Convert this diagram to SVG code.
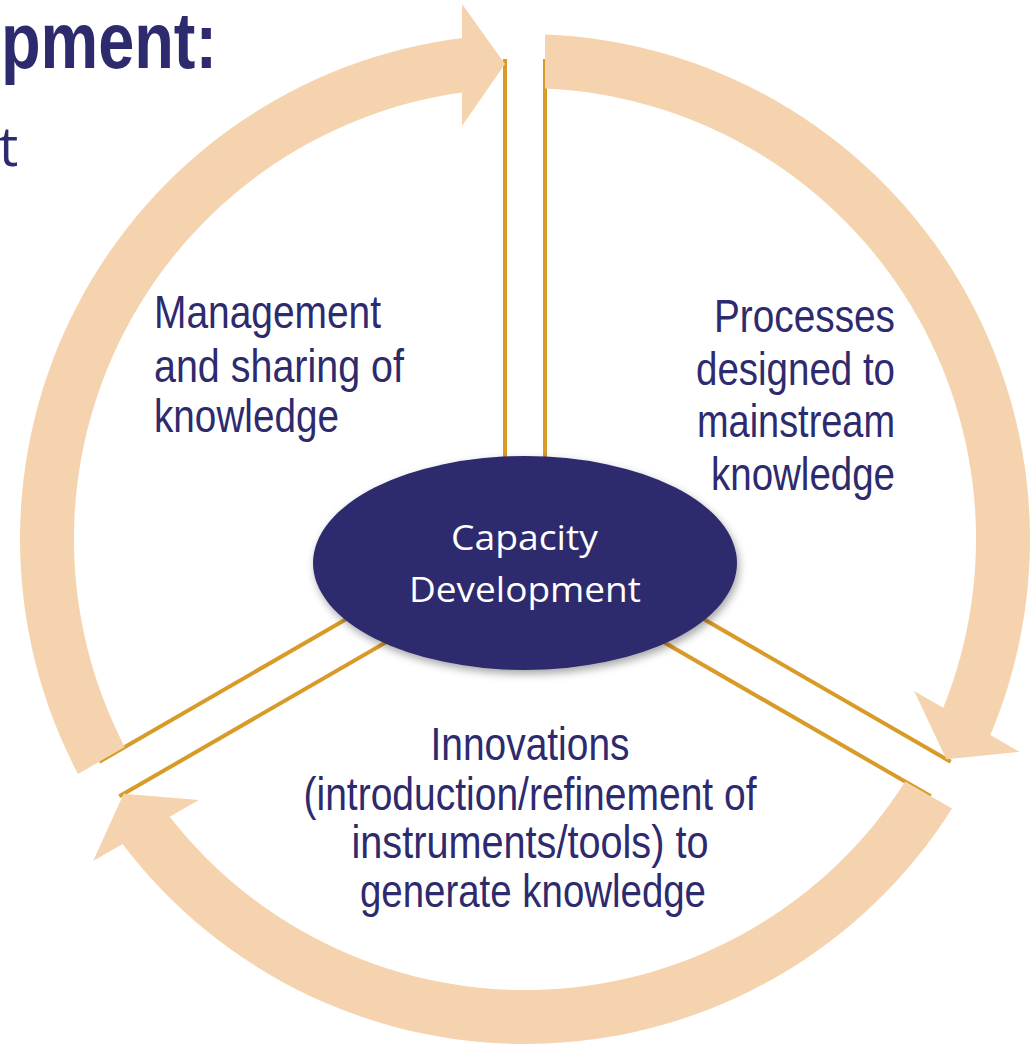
<svg xmlns="http://www.w3.org/2000/svg" width="1036" height="1045" viewBox="0 0 1036 1045">
<style>
.band{fill:#F5D3AE}
.div{stroke:#D99B28;stroke-width:4;fill:none}
.lbl{font-family:"Liberation Sans Narrow","Liberation Sans",Arial,sans-serif;font-size:46px;fill:#2E2A6E}
.title{font-family:"Liberation Sans Narrow","Liberation Sans",sans-serif;font-weight:bold;font-size:80px;fill:#2E2A6E}
.sub{font-family:"Open Sans","Liberation Sans",sans-serif;font-size:54px;fill:#2E2A6E}
.core{font-family:"Open Sans","Liberation Sans",sans-serif;font-size:35px;fill:#FFFFFF;text-anchor:middle}
</style>
<defs>
<path id="arrowShape" class="band" d="M 20,-504.6 A 505 505 0 0 1 465.41,195.97 L 494.81,212.94 L 421.35,220.18 L 389.16,151.94 L 418.26,168.74 A 451 451 0 0 0 20,-450.6 Z"/>
<g id="dividerPair">
<line x1="-20" y1="-480" x2="-20" y2="-60"/>
<line x1="20" y1="-480" x2="20" y2="-60"/>
</g>
<filter id="shadow" x="-10%" y="-15%" width="125%" height="140%">
<feDropShadow dx="2" dy="4" stdDeviation="4" flood-color="#000000" flood-opacity="0.35"/>
</filter>
</defs>

<g id="title">
<text class="title" x="1" y="68" textLength="216" lengthAdjust="spacingAndGlyphs">pment:</text>
<text class="sub" x="-1" y="166">t</text>
</g>

<g id="connectors" class="div" transform="translate(525,539)">
<use href="#dividerPair"/>
<use href="#dividerPair" transform="rotate(120)"/>
<use href="#dividerPair" transform="rotate(240)"/>
</g>

<g id="cycle-arrows" transform="translate(525,539)">
<g id="arrow-processes"><use href="#arrowShape"/></g>
<g id="arrow-innovations"><use href="#arrowShape" transform="rotate(120)"/></g>
<g id="arrow-management"><use href="#arrowShape" transform="rotate(240)"/></g>
</g>

<g id="node-core">
<ellipse cx="525" cy="563" rx="212" ry="107" fill="#2E2B6E" filter="url(#shadow)"/>
<text class="core" x="524.5" y="550" textLength="147" lengthAdjust="spacingAndGlyphs">Capacity</text>
<text class="core" x="525" y="602" textLength="232" lengthAdjust="spacingAndGlyphs">Development</text>
</g>

<g id="label-management">
<text class="lbl" x="154" y="328" textLength="227" lengthAdjust="spacingAndGlyphs">Management</text>
<text class="lbl" x="154" y="382" textLength="250" lengthAdjust="spacingAndGlyphs">and sharing of</text>
<text class="lbl" x="154" y="432" textLength="185" lengthAdjust="spacingAndGlyphs">knowledge</text>
</g>

<g id="label-processes" text-anchor="end">
<text class="lbl" x="895" y="332" textLength="181" lengthAdjust="spacingAndGlyphs">Processes</text>
<text class="lbl" x="895" y="385" textLength="199" lengthAdjust="spacingAndGlyphs">designed to</text>
<text class="lbl" x="895" y="437" textLength="198" lengthAdjust="spacingAndGlyphs">mainstream</text>
<text class="lbl" x="895" y="490" textLength="184" lengthAdjust="spacingAndGlyphs">knowledge</text>
</g>

<g id="label-innovations" text-anchor="middle">
<text class="lbl" x="530" y="760" textLength="199" lengthAdjust="spacingAndGlyphs">Innovations</text>
<text class="lbl" x="530" y="810" textLength="453" lengthAdjust="spacingAndGlyphs">(introduction/refinement of</text>
<text class="lbl" x="530" y="858" textLength="357" lengthAdjust="spacingAndGlyphs">instruments/tools) to</text>
<text class="lbl" x="533" y="907" textLength="346" lengthAdjust="spacingAndGlyphs">generate knowledge</text>
</g>
</svg>
